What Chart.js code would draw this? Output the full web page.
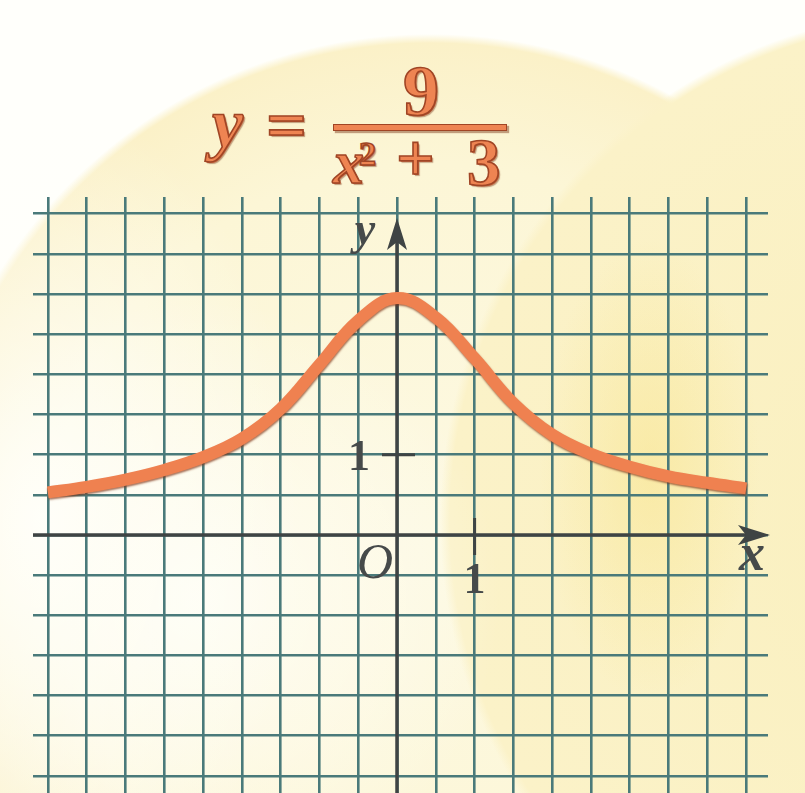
<!DOCTYPE html>
<html>
<head>
<meta charset="utf-8">
<script src="https://cdn.jsdelivr.net/npm/chart.js@4/dist/chart.umd.min.js"></script>
<style>
  html, body { margin: 0; padding: 0; }
  body {
    width: 805px; height: 793px; overflow: hidden; position: relative;
    background:
      radial-gradient(ellipse 260px 420px at 40px 520px, rgba(255, 255, 250, 0.95), rgba(255, 255, 250, 0) 100%),
      radial-gradient(ellipse 300px 300px at 200px 600px, rgba(255, 255, 250, 0.8), rgba(255, 255, 250, 0) 100%),
      radial-gradient(ellipse 110px 230px at 650px 470px, rgba(248, 228, 140, 0.55), rgba(248, 228, 140, 0) 100%),
      radial-gradient(circle at 950px 520px, #faf0bf 0, #fbf2c8 500px, rgba(255, 255, 255, 0) 510px),
      radial-gradient(circle at 430px 543px, #fdf9e2 0, #fcf6d6 380px, #fbf1c8 500px, rgba(255, 255, 255, 0) 509px),
      #fffffb;
  }
  canvas { position: absolute; left: 0; top: 0; }
  .eq {
    position: absolute; line-height: 1; margin: 0;
    font-family: 'Liberation Serif', serif; font-weight: bold;
    color: #ee8452; -webkit-text-stroke: 1.6px #a04525;
    text-shadow: 1px 1px 0 #c0603a, 2px 2px 1px rgba(120, 50, 20, 0.45);
  }
  .it { font-style: italic; }
  .bar {
    position: absolute; left: 333px; top: 124px; width: 172px; height: 5px;
    background: #ee8452; border: 1px solid #a04525;
    box-shadow: 2px 2px 1px rgba(120, 50, 20, 0.45);
  }
</style>
</head>
<body>
<span class="eq it" style="left:212px; top:89px; font-size:70px;">y</span>
<span class="eq" style="left:266px; top:89px; font-size:72px;">=</span>
<span class="eq" style="left:403px; top:55px; font-size:72px;">9</span>
<div class="bar"></div>
<span class="eq it" style="left:333px; top:131px; font-size:62px;">x</span>
<span class="eq" style="left:359px; top:137px; font-size:34px;">2</span>
<span class="eq" style="left:396px; top:124px; font-size:68px;">+</span>
<span class="eq" style="left:467px; top:129px; font-size:67px;">3</span>
<canvas id="graph" width="805" height="793"></canvas>
<script>
// Curve: y at every half unit of x.
const xValues = [-4.5, -4, -3.5, -3, -2.5, -2, -1.5, -1, -0.5, 0, 0.5, 1, 1.5, 2, 2.5, 3, 3.5, 4, 4.5];
const yValues = [0.53, 0.60, 0.69, 0.81, 0.97, 1.20, 1.57, 2.12, 2.67, 2.95, 2.71, 2.20, 1.64, 1.25, 1.01, 0.85, 0.73, 0.65, 0.58];

// Squared paper: one cell is half a unit.
const xGrid = [-4.5, -4, -3.5, -3, -2.5, -2, -1.5, -1, -0.5, 0, 0.5, 1, 1.5, 2, 2.5, 3, 3.5, 4, 4.5];
const yGrid = [-3, -2.5, -2, -1.5, -1, -0.5, 0, 0.5, 1, 1.5, 2, 2.5, 3, 3.5, 4];

const xLabel = 'x', yLabel = 'y', originLabel = 'O', unitLabel = '1';

const ink = '#3f4444';
const gridColor = '#4a7a7a';
const curveColor = '#ef8150';

function dart(ctx, tx, ty, dir) {
  // notched arrowhead pointing right ('x') or up ('y')
  const len = 32, half = 10, notch = 8;
  ctx.beginPath();
  if (dir === 'x') {
    ctx.moveTo(tx, ty);
    ctx.lineTo(tx - len, ty - half);
    ctx.lineTo(tx - len + notch, ty);
    ctx.lineTo(tx - len, ty + half);
  } else {
    ctx.moveTo(tx, ty);
    ctx.lineTo(tx - half, ty + len);
    ctx.lineTo(tx, ty + len - notch);
    ctx.lineTo(tx + half, ty + len);
  }
  ctx.closePath();
  ctx.fill();
}

const axesPlugin = {
  id: 'axes',
  beforeDatasetsDraw(chart) {
    const { ctx, chartArea: a, scales: { x, y } } = chart;
    const ox = x.getPixelForValue(0), oy = y.getPixelForValue(0);
    const x1 = x.getPixelForValue(1), y1 = y.getPixelForValue(1);
    ctx.save();
    ctx.strokeStyle = ink;
    ctx.fillStyle = ink;
    ctx.lineWidth = 3.5;
    ctx.beginPath();
    ctx.moveTo(a.left, oy); ctx.lineTo(a.right - 20, oy);
    ctx.moveTo(ox, a.bottom); ctx.lineTo(ox, a.top + 45);
    ctx.stroke();
    ctx.lineWidth = 3;
    ctx.beginPath();
    ctx.moveTo(x1, oy - 17); ctx.lineTo(x1, oy + 20);
    ctx.moveTo(ox - 15, y1); ctx.lineTo(ox + 18, y1);
    ctx.stroke();
    dart(ctx, a.right + 2, oy, 'x');
    dart(ctx, ox, a.top + 21, 'y');

    ctx.textAlign = 'center';
    ctx.textBaseline = 'alphabetic';
    ctx.fillStyle = '#464a4a';
    ctx.font = 'bold italic 46px "Liberation Serif"';
    ctx.fillText(yLabel, ox - 32, a.top + 47);
    ctx.font = 'bold italic 52px "Liberation Serif"';
    ctx.fillText(xLabel, a.right - 16, oy + 35);
    ctx.font = 'italic 50px "Liberation Serif"';
    ctx.fillText(originLabel, ox - 22, oy + 43);
    ctx.font = 'bold 44px "Liberation Serif"';
    ctx.fillText(unitLabel, ox - 38, y1 + 15);
    ctx.fillText(unitLabel, x1, oy + 58);
    ctx.restore();
  },
  beforeDatasetDraw(chart) {
    const ctx = chart.ctx;
    ctx.save();
    ctx.shadowColor = 'rgba(130, 55, 25, 0.7)';
    ctx.shadowOffsetX = 0.5;
    ctx.shadowOffsetY = 1.5;
    ctx.shadowBlur = 2;
  },
  afterDatasetDraw(chart) {
    chart.ctx.restore();
  },
};

const gridScale = (ticks, min, max) => ({
  type: 'linear',
  min, max,
  afterBuildTicks: (scale) => { scale.ticks = ticks.map((v) => ({ value: v })); },
  grid: { color: gridColor, lineWidth: 2.6, drawTicks: false },
  border: { display: false },
  ticks: { display: false },
});

new Chart(document.getElementById('graph'), {
  type: 'line',
  data: {
    datasets: [{
      data: xValues.map((v, i) => ({ x: v, y: yValues[i] })),
      borderColor: curveColor,
      borderWidth: 12,
      borderCapStyle: 'butt',
      pointRadius: 0,
      tension: 0.4,
      fill: false,
    }],
  },
  options: {
    responsive: false,
    animation: false,
    devicePixelRatio: 1,
    layout: { padding: { left: 33, right: 37, top: 197, bottom: 0 } },
    plugins: { legend: { display: false }, tooltip: { enabled: false } },
    scales: {
      x: gridScale(xGrid, -4.691, 4.781),
      y: gridScale(yGrid, -3.213, 4.209),
    },
  },
  plugins: [axesPlugin],
});
</script>
</body>
</html>
